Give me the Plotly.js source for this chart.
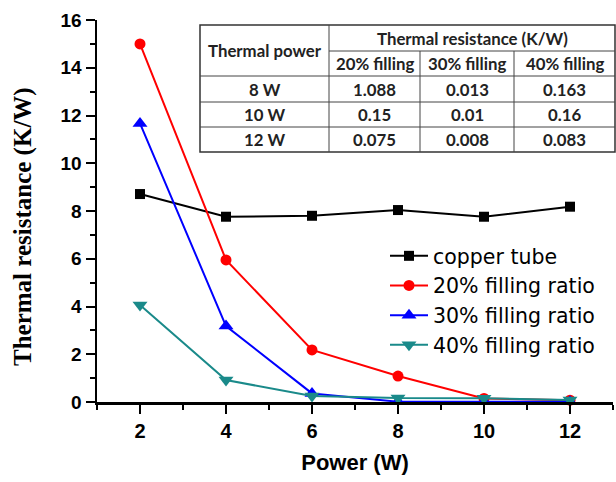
<!DOCTYPE html>
<html>
<head>
<meta charset="utf-8">
<script src="https://cdn.plot.ly/plotly-3.0.1.min.js"></script>
<style>html,body{margin:0;padding:0;background:#fff;}#chart{width:616px;height:482px;}</style>
</head>
<body>
<div id="chart"></div>
<script>
// ---- data ----
const power = [2, 4, 6, 8, 10, 12];
const copperTube = [8.71, 7.76, 7.80, 8.04, 7.76, 8.18];
const fill20 = [15.0, 5.95, 2.18, 1.088, 0.15, 0.075];
const fill30 = [11.67, 3.18, 0.36, 0.013, 0.01, 0.008];
const fill40 = [4.06, 0.92, 0.25, 0.163, 0.16, 0.083];
const seriesNames = ['copper tube', '20% filling ratio', '30% filling ratio', '40% filling ratio'];
const yTicks = [0, 2, 4, 6, 8, 10, 12, 14, 16];
const xTicks = [2, 4, 6, 8, 10, 12];
const yTitle = 'Thermal resistance (K/W)';
const xTitle = 'Power (W)';

// inset table contents
const tableHeadLeft = 'Thermal power';
const tableHeadTop = 'Thermal resistance (K/W)';
const tableSubHeads = ['20% filling', '30% filling', '40% filling'];
const tableRowLabels = ['8 W', '10 W', '12 W'];
const tableCol20 = ['1.088', '0.15', '0.075'];
const tableCol30 = ['0.013', '0.01', '0.008'];
const tableCol40 = ['0.163', '0.16', '0.083'];

// ---- layout geometry (pixels) ----
const W = 616, H = 482;
const mL = 97, mR = 3, mT = 20, mB = 80;
const pw = W - mL - mR, ph = H - mT - mB;
const px = x => (x - mL) / pw;
const py = y => (H - mB - y) / ph;

const colors = ['#000000', '#ff0000', '#0000ff', '#1a8a8a'];
const symbols = ['square', 'circle', 'triangle-up', 'triangle-down'];
const sizes = [10, 11, 13, 13];
const ys = [copperTube, fill20, fill30, fill40];

const traces = ys.map((y, i) => ({
  x: power, y: y, name: seriesNames[i], type: 'scatter', mode: 'lines+markers',
  line: {color: colors[i], width: 2},
  marker: {symbol: symbols[i], size: sizes[i], color: colors[i]},
  cliponaxis: false
}));

// table geometry
const colX = [200, 329, 420, 514, 615];
const rowY = [25, 51, 76, 102, 127, 152];
const shapes = [];
const border = {color: '#333', width: 1.5};
const inner = {color: '#444', width: 1};
shapes.push({type: 'rect', xref: 'paper', yref: 'paper', x0: px(colX[0]), x1: px(colX[4]), y0: py(rowY[0]), y1: py(rowY[5]), line: border, fillcolor: '#ffffff', layer: 'above'});
shapes.push({type: 'line', xref: 'paper', yref: 'paper', x0: px(colX[1]), x1: px(colX[4]), y0: py(rowY[1]), y1: py(rowY[1]), line: inner, layer: 'above'});
for (let r = 2; r <= 4; r++) {
  shapes.push({type: 'line', xref: 'paper', yref: 'paper', x0: px(colX[0]), x1: px(colX[4]), y0: py(rowY[r]), y1: py(rowY[r]), line: inner, layer: 'above'});
}
shapes.push({type: 'line', xref: 'paper', yref: 'paper', x0: px(colX[1]), x1: px(colX[1]), y0: py(rowY[0]), y1: py(rowY[5]), line: inner, layer: 'above'});
for (let c = 2; c <= 3; c++) {
  shapes.push({type: 'line', xref: 'paper', yref: 'paper', x0: px(colX[c]), x1: px(colX[c]), y0: py(rowY[1]), y1: py(rowY[5]), line: inner, layer: 'above'});
}

const tFont = {family: 'Lato, "Liberation Sans", sans-serif', size: 16.8, color: '#222', weight: 'bold'};
const ann = [];
function cell(text, cx, cy) {
  ann.push({xref: 'paper', yref: 'paper', x: px(cx), y: py(cy), text: text, showarrow: false, font: tFont, xanchor: 'center', yanchor: 'middle'});
}
cell(tableHeadLeft, (colX[0] + colX[1]) / 2, (rowY[0] + rowY[2]) / 2);
cell(tableHeadTop, (colX[1] + colX[4]) / 2, (rowY[0] + rowY[1]) / 2);
tableSubHeads.forEach((t, i) => cell(t, (colX[i + 1] + colX[i + 2]) / 2, (rowY[1] + rowY[2]) / 2));
const tCols = [tableRowLabels, tableCol20, tableCol30, tableCol40];
tCols.forEach((col, c) => col.forEach((t, r) => cell(t, (colX[c] + colX[c + 1]) / 2, (rowY[r + 2] + rowY[r + 3]) / 2)));

// y axis title (rotated, as annotation for exact placement)
ann.push({xref: 'paper', yref: 'paper', x: px(23), y: py(227), text: yTitle, textangle: -90, showarrow: false,
  xanchor: 'center', yanchor: 'middle',
  font: {family: '"Liberation Serif", "Times New Roman", serif', size: 25, color: '#000', weight: 'bold'}});

const axFont = {family: '"Liberation Sans", Arial, sans-serif', size: 20, color: '#000', weight: 'bold'};
const layout = {
  width: W, height: H,
  margin: {l: mL, r: mR, t: mT, b: mB, pad: 0},
  paper_bgcolor: '#fff', plot_bgcolor: '#fff',
  showlegend: true,
  legend: {
    x: px(385), y: py(236), xanchor: 'left', yanchor: 'top',
    font: {family: '"DejaVu Sans", "Liberation Sans", Arial, sans-serif', size: 20.5, color: '#000'},
    bgcolor: 'rgba(0,0,0,0)', itemwidth: 38, tracegroupgap: 0
  },
  xaxis: {
    range: [1, 13], tickvals: xTicks, ticktext: xTicks.map(String),
    showgrid: false, zeroline: false, showline: true, linecolor: '#000', linewidth: 2.5,
    ticks: 'outside', ticklen: 9, tickwidth: 2, tickcolor: '#000',
    minor: {dtick: 1, tick0: 1, ticks: 'outside', ticklen: 5, tickwidth: 2, tickcolor: '#000', showgrid: false},
    tickfont: axFont,
    title: {text: xTitle, font: {family: '"Liberation Sans", Arial, sans-serif', size: 22, color: '#000', weight: 'bold'}, standoff: 14}
  },
  yaxis: {
    range: [0, 16], tickvals: yTicks, ticktext: yTicks.map(String),
    showgrid: false, zeroline: false, showline: true, linecolor: '#000', linewidth: 2.5,
    ticks: 'outside', ticklen: 9, tickwidth: 2, tickcolor: '#000',
    minor: {dtick: 1, tick0: 0, ticks: 'outside', ticklen: 5, tickwidth: 2, tickcolor: '#000', showgrid: false},
    tickfont: {family: '"Liberation Sans", Arial, sans-serif', size: 19, color: '#000', weight: 'bold'}
  },
  shapes: shapes,
  annotations: ann
};

Plotly.newPlot('chart', traces, layout, {displayModeBar: false, staticPlot: true});
</script>
</body>
</html>
